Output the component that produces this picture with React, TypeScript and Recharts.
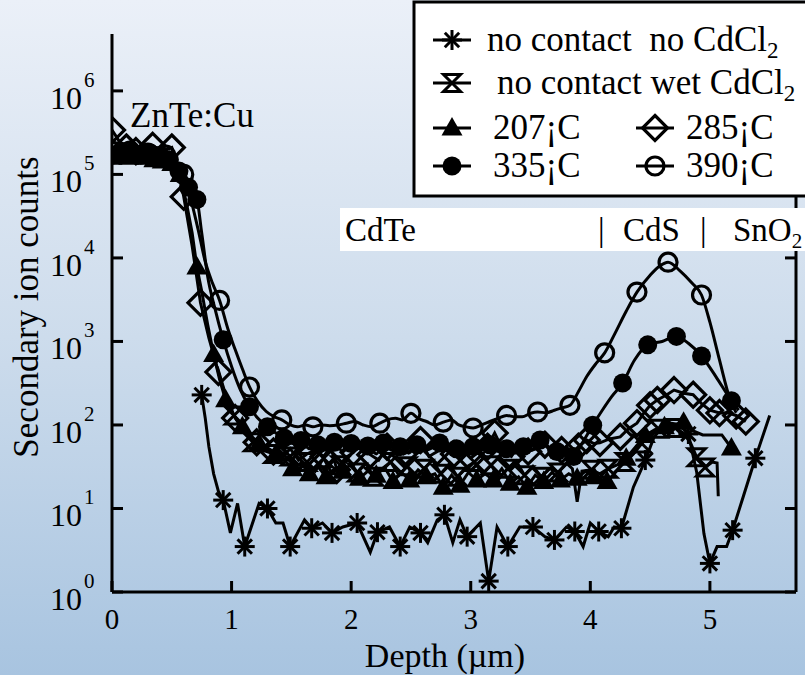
import React from 'react';
import { LineChart, Line, XAxis, YAxis } from 'recharts';

const W = 805;
const H = 675;
const FONT = '"Liberation Serif", "Times New Roman", Times, serif';

const xTicks = [0, 1, 2, 3, 4, 5];
const yTicks = [1, 10, 100, 1000, 10000, 100000, 1000000];

// [depth (um), counts, marker shown]
const noContactNoCdCl2: number[][] = [
  [0.75, 229, 1], [0.78, 120, 0], [0.81, 55, 0], [0.85, 26, 0], [0.89, 16, 0], [0.93, 12.6, 1],
  [0.99, 5.1, 0], [1.05, 11.5, 0], [1.11, 3.5, 1], [1.23, 11.5, 0], [1.30, 10, 1], [1.37, 6.7, 0],
  [1.43, 6.7, 0], [1.49, 3.5, 1], [1.61, 7.3, 0], [1.67, 5.8, 1], [1.76, 6.7, 0], [1.84, 5.1, 1],
  [1.93, 6.0, 0], [2.05, 6.7, 1], [2.16, 3.0, 0], [2.22, 5.2, 1], [2.32, 6.0, 0], [2.41, 3.5, 1],
  [2.49, 6.0, 0], [2.58, 5.1, 1], [2.64, 3.9, 0], [2.72, 7.3, 0], [2.78, 8.4, 1], [2.85, 3.9, 0],
  [2.91, 7.3, 0], [2.97, 4.6, 1], [3.08, 6.7, 0], [3.15, 1.35, 1], [3.22, 6.0, 0], [3.31, 3.5, 1],
  [3.41, 6.0, 0], [3.52, 6.0, 1], [3.62, 4.6, 0], [3.70, 4.2, 1], [3.80, 6.0, 0], [3.87, 5.3, 1],
  [3.94, 3.5, 0], [4.00, 6.7, 0], [4.07, 5.3, 1], [4.15, 4.6, 0], [4.20, 6.0, 0], [4.26, 5.8, 1],
  [4.36, 18, 0], [4.46, 38, 1], [4.53, 70, 0], [4.60, 95, 0], [4.68, 105, 0], [4.76, 100, 0],
  [4.82, 78, 1], [4.89, 27, 0], [4.95, 5, 0], [5.00, 2.2, 1], [5.06, 3.5, 0], [5.14, 3.5, 0],
  [5.19, 5.5, 1], [5.28, 14, 0], [5.38, 40, 1], [5.50, 130, 0],
];

const noContactWetCdCl2: number[][] = [
  [0.88, 500, 0], [0.95, 230, 0], [1.02, 130, 1], [1.10, 85, 0], [1.18, 62, 1], [1.26, 50, 0],
  [1.35, 45, 1], [1.42, 38, 0], [1.49, 42, 1], [1.56, 30, 0], [1.63, 36, 1], [1.70, 28, 0],
  [1.77, 40, 1], [1.84, 26, 0], [1.91, 33, 1], [1.98, 38, 0], [2.05, 27, 1], [2.12, 35, 0],
  [2.19, 24, 1], [2.26, 30, 0], [2.33, 36, 1], [2.40, 25, 0], [2.47, 32, 1], [2.54, 22, 0],
  [2.61, 30, 1], [2.68, 38, 0], [2.75, 26, 1], [2.82, 34, 0], [2.89, 24, 1], [2.96, 31, 0],
  [3.03, 36, 1], [3.10, 26, 0], [3.17, 33, 1], [3.24, 23, 0], [3.31, 30, 1], [3.38, 37, 0],
  [3.45, 25, 1], [3.52, 32, 0], [3.59, 24, 1], [3.66, 30, 0], [3.73, 27, 1], [3.80, 35, 0],
  [3.85, 30, 0], [3.89, 12, 0], [3.93, 28, 0], [4.01, 29, 1], [4.08, 26, 0], [4.15, 30, 1],
  [4.22, 33, 0], [4.29, 36, 1], [4.36, 45, 0], [4.43, 60, 1], [4.50, 80, 0], [4.57, 90, 1],
  [4.64, 95, 0], [4.71, 92, 1], [4.78, 80, 0], [4.84, 60, 0], [4.89, 41, 1], [4.96, 31, 1],
  [5.02, 36, 0], [5.06, 35, 0], [5.07, 14, 0],
];

const t207C: number[][] = [
  [0.00, 160000, 1], [0.07, 170000, 1], [0.14, 160000, 1], [0.21, 170000, 1], [0.28, 160000, 1],
  [0.35, 150000, 1], [0.42, 145000, 1], [0.50, 135000, 1], [0.57, 100000, 1], [0.63, 40000, 0],
  [0.67, 20000, 0], [0.71, 7800, 1], [0.75, 4000, 0], [0.80, 1600, 0], [0.85, 700, 1],
  [0.90, 350, 0], [0.95, 200, 1], [1.02, 130, 0], [1.09, 95, 1], [1.16, 75, 0], [1.23, 60, 1],
  [1.30, 52, 0], [1.37, 45, 1], [1.44, 38, 0], [1.51, 30, 1], [1.58, 35, 0], [1.65, 26, 1],
  [1.72, 32, 0], [1.79, 24, 1], [1.86, 30, 0], [1.93, 28, 1], [2.00, 34, 0], [2.07, 23, 1],
  [2.14, 28, 0], [2.21, 25, 1], [2.28, 31, 0], [2.35, 21, 1], [2.42, 27, 0], [2.49, 22, 1],
  [2.56, 29, 0], [2.63, 24, 1], [2.70, 26, 0], [2.77, 18, 1], [2.84, 25, 0], [2.91, 19, 1],
  [2.98, 27, 0], [3.05, 22, 1], [3.12, 26, 0], [3.19, 22, 1], [3.26, 30, 0], [3.33, 20, 1],
  [3.40, 24, 0], [3.47, 18, 1], [3.54, 25, 0], [3.61, 21, 1], [3.68, 27, 0], [3.75, 22, 1],
  [3.82, 26, 0], [3.89, 23, 1], [3.96, 28, 0], [4.03, 24, 1], [4.10, 22, 0], [4.14, 21, 1],
  [4.22, 28, 0], [4.30, 40, 1], [4.38, 55, 0], [4.46, 75, 1], [4.54, 88, 0], [4.62, 95, 1],
  [4.70, 100, 0], [4.78, 108, 1], [4.86, 85, 0], [4.94, 76, 0], [5.02, 76, 0], [5.10, 76, 0],
  [5.18, 53, 1],
];

const t285C: number[][] = [
  [0.00, 340000, 1], [0.06, 250000, 0], [0.12, 210000, 1], [0.20, 190000, 1], [0.27, 190000, 0],
  [0.34, 220000, 1], [0.42, 190000, 0], [0.50, 210000, 1], [0.55, 120000, 0], [0.60, 54000, 1],
  [0.67, 14000, 0], [0.74, 2900, 1], [0.81, 1100, 0], [0.89, 430, 1], [0.96, 190, 0],
  [1.03, 121, 1], [1.12, 80, 0], [1.21, 62, 1], [1.28, 55, 0], [1.35, 48, 1], [1.42, 40, 0],
  [1.49, 52, 1], [1.56, 38, 0], [1.63, 45, 1], [1.70, 50, 0], [1.77, 42, 1], [1.83, 55, 0],
  [1.88, 29, 1], [1.95, 40, 0], [2.02, 47, 1], [2.09, 60, 0], [2.16, 44, 1], [2.23, 38, 0],
  [2.30, 55, 1], [2.37, 62, 0], [2.44, 45, 1], [2.51, 50, 0], [2.58, 66, 1], [2.65, 42, 0],
  [2.72, 48, 1], [2.79, 60, 0], [2.86, 45, 1], [2.93, 52, 0], [3.00, 40, 1], [3.07, 48, 0],
  [3.14, 55, 1], [3.20, 80, 1], [3.27, 50, 0], [3.34, 42, 1], [3.41, 60, 0], [3.48, 48, 1],
  [3.55, 52, 0], [3.62, 58, 1], [3.69, 45, 0], [3.76, 50, 1], [3.83, 42, 0], [3.90, 55, 1],
  [3.97, 66, 1], [4.03, 60, 0], [4.08, 61, 1], [4.16, 68, 0], [4.25, 72, 1], [4.32, 90, 0],
  [4.39, 105, 1], [4.45, 140, 0], [4.50, 172, 1], [4.56, 199, 1], [4.64, 230, 0], [4.70, 262, 1],
  [4.78, 240, 0], [4.86, 230, 1], [4.93, 180, 0], [5.00, 150, 1], [5.08, 139, 1], [5.15, 140, 0],
  [5.22, 130, 1], [5.30, 110, 1],
];

const t335C: number[][] = [
  [0.00, 170000, 1], [0.08, 190000, 1], [0.16, 180000, 1], [0.24, 170000, 1], [0.32, 180000, 1],
  [0.40, 170000, 1], [0.48, 150000, 1], [0.56, 110000, 1], [0.64, 70000, 1], [0.71, 50000, 1],
  [0.75, 20000, 0], [0.80, 6000, 0], [0.86, 2500, 0], [0.93, 1050, 1], [1.00, 500, 0],
  [1.07, 270, 0], [1.15, 165, 1], [1.22, 120, 0], [1.30, 95, 1], [1.37, 80, 0], [1.44, 70, 1],
  [1.51, 60, 0], [1.58, 65, 1], [1.65, 52, 0], [1.72, 58, 1], [1.79, 50, 0], [1.86, 62, 1],
  [1.93, 48, 0], [2.00, 60, 1], [2.07, 52, 0], [2.14, 56, 1], [2.21, 45, 0], [2.27, 61, 1],
  [2.34, 50, 0], [2.41, 55, 1], [2.48, 46, 0], [2.55, 58, 1], [2.62, 50, 0], [2.69, 54, 0],
  [2.74, 61, 1], [2.81, 48, 0], [2.88, 52, 1], [2.95, 45, 0], [3.02, 55, 1], [3.09, 50, 0],
  [3.16, 58, 1], [3.23, 48, 0], [3.30, 52, 1], [3.37, 46, 0], [3.44, 55, 1], [3.51, 50, 0],
  [3.58, 66, 1], [3.65, 55, 0], [3.72, 48, 1], [3.79, 52, 0], [3.86, 42, 1], [3.93, 60, 0],
  [4.02, 99, 1], [4.10, 150, 0], [4.18, 220, 0], [4.27, 318, 1], [4.37, 600, 0], [4.48, 910, 1],
  [4.60, 1000, 0], [4.72, 1150, 1], [4.82, 950, 0], [4.93, 670, 1], [5.05, 380, 0], [5.18, 195, 1],
  [5.24, 150, 0],
];

const t390C: number[][] = [
  [0.00, 190000, 1], [0.10, 200000, 0], [0.15, 190000, 1], [0.22, 180000, 0], [0.30, 180000, 1],
  [0.38, 170000, 0], [0.45, 170000, 1], [0.52, 150000, 0], [0.60, 100000, 1], [0.66, 50000, 0],
  [0.72, 22000, 0], [0.78, 9000, 0], [0.84, 5000, 0], [0.90, 3100, 1], [0.97, 1400, 0],
  [1.03, 800, 0], [1.09, 470, 0], [1.15, 285, 1], [1.22, 190, 0], [1.29, 145, 0], [1.36, 125, 0],
  [1.42, 115, 1], [1.49, 100, 0], [1.55, 95, 0], [1.62, 100, 0], [1.68, 95, 1], [1.75, 100, 0],
  [1.82, 98, 0], [1.89, 100, 0], [1.96, 105, 1], [2.03, 110, 0], [2.10, 100, 0], [2.17, 95, 0],
  [2.24, 105, 1], [2.30, 115, 0], [2.37, 120, 0], [2.43, 115, 0], [2.50, 138, 1], [2.56, 120, 0],
  [2.63, 110, 0], [2.70, 100, 0], [2.77, 108, 1], [2.84, 115, 0], [2.90, 100, 0], [2.96, 95, 0],
  [3.02, 92, 1], [3.09, 100, 0], [3.16, 110, 0], [3.23, 120, 0], [3.30, 130, 1], [3.37, 125, 0],
  [3.43, 125, 0], [3.50, 138, 0], [3.56, 143, 1], [3.63, 140, 0], [3.70, 150, 0], [3.76, 160, 0],
  [3.83, 172, 1], [3.90, 250, 0], [3.97, 380, 0], [4.05, 550, 0], [4.12, 730, 1], [4.20, 1200, 0],
  [4.30, 2300, 0], [4.39, 3900, 1], [4.50, 6200, 0], [4.58, 8000, 0], [4.65, 8900, 1],
  [4.75, 7000, 0], [4.85, 5000, 0], [4.93, 3600, 1], [5.00, 1700, 0], [5.08, 600, 0],
  [5.17, 200, 0], [5.22, 140, 0],
];

type ShapeName = 'star' | 'hourglass' | 'triangle' | 'diamond' | 'dot' | 'ring';

const Marker = ({ shape, cx, cy }: { shape: ShapeName; cx: number; cy: number }) => {
  const k = '#000';
  if (shape === 'star') {
    const r = 10;
    const d = r * 0.72;
    return (
      <g stroke={k} strokeWidth={3} strokeLinecap="butt">
        <line x1={cx} y1={cy - r} x2={cx} y2={cy + r} />
        <line x1={cx - r} y1={cy} x2={cx + r} y2={cy} />
        <line x1={cx - d} y1={cy - d} x2={cx + d} y2={cy + d} />
        <line x1={cx - d} y1={cy + d} x2={cx + d} y2={cy - d} />
      </g>
    );
  }
  if (shape === 'hourglass') {
    const r = 8.5;
    return (
      <path
        d={`M${cx - r},${cy - r} L${cx + r},${cy - r} L${cx - r},${cy + r} L${cx + r},${cy + r} Z`}
        fill="none" stroke={k} strokeWidth={3} strokeLinejoin="miter"
      />
    );
  }
  if (shape === 'triangle') {
    return <path d={`M${cx},${cy - 11} L${cx + 10.5},${cy + 7.5} L${cx - 10.5},${cy + 7.5} Z`} fill={k} />;
  }
  if (shape === 'diamond') {
    const r = 12.5;
    return (
      <path d={`M${cx},${cy - r} L${cx + r},${cy} L${cx},${cy + r} L${cx - r},${cy} Z`}
        fill="none" stroke={k} strokeWidth={3.2} />
    );
  }
  if (shape === 'dot') {
    return <circle cx={cx} cy={cy} r={9.5} fill={k} />;
  }
  return <circle cx={cx} cy={cy} r={9} fill="none" stroke={k} strokeWidth={3.2} />;
};

const makeDot = (shape: ShapeName) => (props: any) => {
  const { cx, cy, payload, index } = props;
  if (!payload || !payload.m || cx == null || cy == null || isNaN(cx) || isNaN(cy)) {
    return <g key={`e${index}`} />;
  }
  return (
    <g key={`m${index}`}>
      <Marker shape={shape} cx={cx} cy={cy} />
    </g>
  );
};

const rows = (arr: number[][]) => arr.map(([x, y, m]) => ({ x, y, m }));

const XTick = (props: any) => {
  const { x, y, payload } = props;
  return (
    <g>
      <line x1={x} y1={y} x2={x} y2={y - 11} stroke="#000" strokeWidth={3} />
      <text x={x} y={y + 37} textAnchor="middle" fontFamily={FONT} fontSize={29} fill="#000">
        {payload.value}
      </text>
    </g>
  );
};

const LeftTick = (props: any) => {
  const { x, y, payload } = props;
  const e = Math.round(Math.log10(payload.value));
  return (
    <g>
      <line x1={x} y1={y} x2={x + 11} y2={y} stroke="#000" strokeWidth={3} />
      <text x={x - 30} y={y + 18} textAnchor="end" fontFamily={FONT} fontSize={32} fill="#000">10</text>
      <text x={x - 28} y={y - 4} textAnchor="start" fontFamily={FONT} fontSize={21} fill="#000">{e}</text>
    </g>
  );
};

const RightTick = (props: any) => {
  const { x, y } = props;
  return <line x1={x} y1={y} x2={x - 11} y2={y} stroke="#000" strokeWidth={3} />;
};

const LegendEntry = ({ shape, x, y, label }: { shape: ShapeName; x: number; y: number; label: React.ReactNode }) => (
  <g>
    <line x1={x - 19} y1={y} x2={x + 19} y2={y} stroke="#000" strokeWidth={3} />
    <Marker shape={shape} cx={x} cy={y} />
    {label}
  </g>
);

const series: { name: string; data: number[][]; shape: ShapeName; curve: 'linear' | 'monotone' }[] = [
  { name: 'no contact  no CdCl2', data: noContactNoCdCl2, shape: 'star', curve: 'linear' },
  { name: 'no contact wet CdCl2', data: noContactWetCdCl2, shape: 'hourglass', curve: 'linear' },
  { name: '207¡C', data: t207C, shape: 'triangle', curve: 'linear' },
  { name: '285¡C', data: t285C, shape: 'diamond', curve: 'linear' },
  { name: '335¡C', data: t335C, shape: 'dot', curve: 'monotone' },
  { name: '390¡C', data: t390C, shape: 'ring', curve: 'monotone' },
];

export default function App() {
  const axisStyle = { stroke: '#000', strokeWidth: 3 };
  return (
    <div
      style={{
        position: 'absolute', left: 0, top: 0, width: W, height: H, overflow: 'hidden',
        background: 'linear-gradient(to bottom, #ebf0f8 0%, #cddcec 50%, #a8c4e0 100%)',
      }}
    >
      <LineChart width={W} height={H} margin={{ top: 34, right: 0, bottom: 0, left: 0 }}>
        <XAxis
          type="number" dataKey="x" domain={[0, 5.72]} ticks={xTicks} allowDataOverflow
          height={83} tickSize={0} tickMargin={0} tickLine={false} interval={0}
          axisLine={axisStyle} tick={<XTick />}
        />
        <YAxis
          yAxisId="l" type="number" scale="log" domain={[1, 4.8e6]} allowDataOverflow ticks={yTicks}
          width={112} tickSize={0} tickMargin={0} tickLine={false} interval={0}
          axisLine={axisStyle} tick={<LeftTick />}
        />
        <YAxis
          yAxisId="r" orientation="right" type="number" scale="log" domain={[1, 4.8e6]} allowDataOverflow
          ticks={yTicks} width={9} tickSize={0} tickMargin={0} tickLine={false} interval={0}
          axisLine={axisStyle} tick={<RightTick />}
        />
        {series.map((s) => (
          <Line
            key={s.name} name={s.name} yAxisId="l" data={rows(s.data)} dataKey="y" type={s.curve}
            stroke="#000" strokeWidth={3} dot={makeDot(s.shape)} activeDot={false}
            isAnimationActive={false} legendType="none"
          />
        ))}
      </LineChart>
      <svg
        width={W} height={H}
        style={{ position: 'absolute', left: 0, top: 0, pointerEvents: 'none' }}
        fontFamily={FONT}
      >
        <text x={130} y={127} fontSize={35} fill="#000">ZnTe:Cu</text>
        <text transform="translate(38,307) rotate(-90)" textAnchor="middle" fontSize={35} fill="#000">
          Secondary ion counts
        </text>
        <text x={445} y={667} textAnchor="middle" fontSize={34} fill="#000">Depth (µm)</text>

        <rect x={340} y={208} width={470} height={43} fill="#fff" />
        <text x={345} y={241} fontSize={33} fill="#000">CdTe</text>
        <text x={598} y={241} fontSize={33} fill="#000">|</text>
        <text x={623} y={241} fontSize={33} fill="#000">CdS</text>
        <text x={700} y={241} fontSize={33} fill="#000">|</text>
        <text x={733} y={241} fontSize={33} fill="#000">
          SnO<tspan fontSize={21} dy={7}>2</tspan>
        </text>

        <rect x={414} y={2} width={400} height={194} fill="#fff" stroke="#000" strokeWidth={3} />
        <LegendEntry shape="star" x={452} y={40} label={
          <text x={487} y={51} fontSize={35} fill="#000" style={{ whiteSpace: 'pre' }}>
            no contact  no CdCl<tspan fontSize={23} dy={7}>2</tspan>
          </text>
        } />
        <LegendEntry shape="hourglass" x={452} y={83} label={
          <text x={497} y={94} fontSize={35} fill="#000">
            no contact wet CdCl<tspan fontSize={23} dy={7}>2</tspan>
          </text>
        } />
        <LegendEntry shape="triangle" x={452} y={128} label={
          <text x={493} y={139} fontSize={35} fill="#000">207¡C</text>
        } />
        <LegendEntry shape="diamond" x={655} y={128} label={
          <text x={686} y={139} fontSize={35} fill="#000">285¡C</text>
        } />
        <LegendEntry shape="dot" x={452} y={166} label={
          <text x={493} y={177} fontSize={35} fill="#000">335¡C</text>
        } />
        <LegendEntry shape="ring" x={655} y={166} label={
          <text x={686} y={177} fontSize={35} fill="#000">390¡C</text>
        } />
      </svg>
    </div>
  );
}
